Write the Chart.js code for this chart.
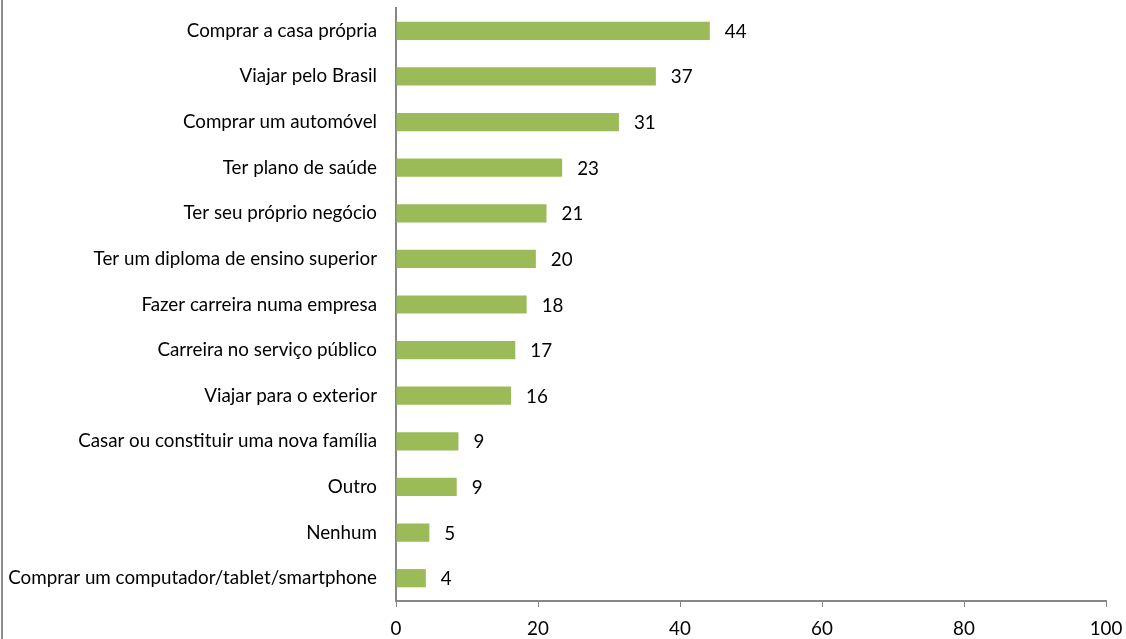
<!DOCTYPE html>
<html>
<head>
<meta charset="utf-8">
<script src="https://cdn.jsdelivr.net/npm/chart.js@4.4.3/dist/chart.umd.min.js"></script>
<style>
  html, body { margin: 0; padding: 0; background: #fff; }
  #wrap { position: relative; width: 1126px; height: 639px; overflow: hidden; }
  #edge { position: absolute; left: 1px; top: 0; width: 2px; height: 639px; background: #8c8c8c; }
</style>
</head>
<body>
<div id="wrap">
  <canvas id="myChart" width="1126" height="639"></canvas>
  <div id="edge"></div>
</div>
<script>
const labels = [
  'Comprar a casa própria',
  'Viajar pelo Brasil',
  'Comprar um automóvel',
  'Ter plano de saúde',
  'Ter seu próprio negócio',
  'Ter um diploma de ensino superior',
  'Fazer carreira numa empresa',
  'Carreira no serviço público',
  'Viajar para o exterior',
  'Casar ou constituir uma nova família',
  'Outro',
  'Nenhum',
  'Comprar um computador/tablet/smartphone'
]
const values = [44.2, 36.6, 31.4, 23.4, 21.2, 19.7, 18.4, 16.8, 16.2, 8.8, 8.55, 4.7, 4.2]
const xTicks = [0, 20, 40, 60, 80, 100]

const fontFamily = 'Lato, "Open Sans", sans-serif'
const fontSize = 18.8

// draw the rounded value to the right of each bar
const valueLabels = {
  id: 'valueLabels',
  afterDatasetsDraw(chart) {
    const ctx = chart.ctx
    const meta = chart.getDatasetMeta(0)
    ctx.save()
    ctx.font = fontSize + 'px ' + fontFamily
    ctx.fillStyle = '#000'
    ctx.textAlign = 'left'
    ctx.textBaseline = 'middle'
    meta.data.forEach((bar, i) => {
      ctx.fillText(String(Math.round(values[i])), bar.x + 15, bar.y + 1)
    })
    ctx.restore()
  }
}

const ctx = document.getElementById('myChart')
new Chart(ctx, {
  type: 'bar',
  data: {
    labels: labels,
    datasets: [{
      data: values,
      backgroundColor: '#9BBB59',
      borderWidth: 0,
      barPercentage: 0.4,
      categoryPercentage: 1
    }]
  },
  options: {
    indexAxis: 'y',
    responsive: false,
    animation: false,
    layout: { padding: { top: 8, right: 20, left: 0, bottom: 0 } },
    plugins: {
      legend: { display: false },
      tooltip: { enabled: false }
    },
    scales: {
      x: {
        min: 0,
        max: 100,
        afterBuildTicks: (s) => { s.ticks = xTicks.map(v => ({ value: v })) },
        afterFit: (s) => { s.height = 38; s.paddingLeft = 0; s.paddingRight = 0 },
        grid: { display: true, drawOnChartArea: false, drawTicks: true, tickLength: 6, color: '#868686' },
        border: { display: true, color: '#868686', width: 2 },
        ticks: { color: '#000', font: { family: fontFamily, size: fontSize }, padding: 11, maxRotation: 0 }
      },
      y: {
        afterFit: (s) => { s.width = 396; s.paddingTop = 0; s.paddingBottom = 0 },
        grid: { display: true, drawOnChartArea: false, drawTicks: false },
        border: { display: true, color: '#868686', width: 2 },
        ticks: { color: '#000', font: { family: fontFamily, size: fontSize }, padding: 19, autoSkip: false }
      }
    }
  },
  plugins: [valueLabels]
})
</script>
</body>
</html>
